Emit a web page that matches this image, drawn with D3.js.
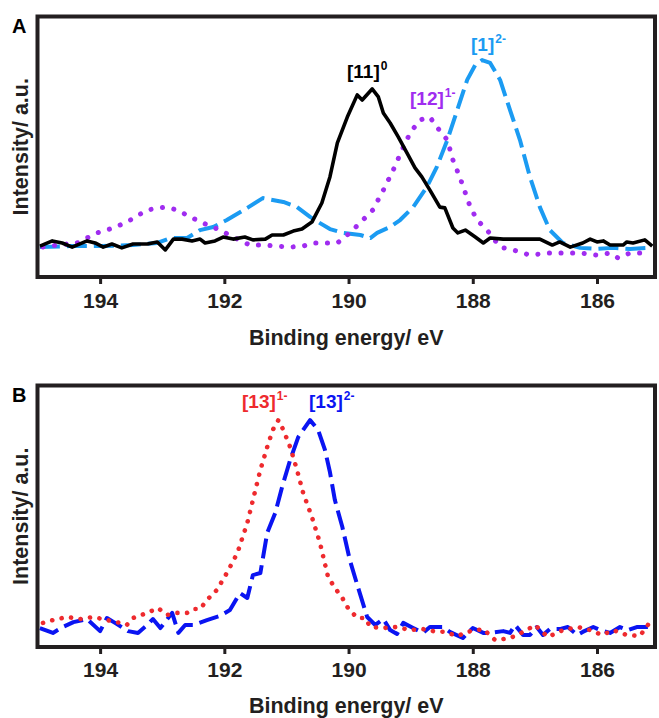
<!DOCTYPE html>
<html>
<head>
<meta charset="utf-8">
<script src="https://cdn.jsdelivr.net/npm/d3@7"></script>
<style>
  html, body { margin: 0; padding: 0; background: #fff; }
  svg { display: block; }
  text { font-family: "Liberation Sans", Arial, Helvetica, sans-serif; font-weight: bold; }
</style>
</head>
<body>
<svg id="chart" width="659" height="718"></svg>
<script>
// ---------------- DATA ----------------
const xTicks = [194, 192, 190, 188, 186];
const xTitle = "Binding energy/ eV";
const yTitle = "Intensity/ a.u.";

// Panel A: [11]0 (black, solid)
const energyA11 = [194.97,194.77,194.61,194.45,194.21,194.08,193.95,193.81,193.65,193.47,193.24,193.08,192.95,192.82,192.68,192.52,192.39,192.31,192.15,192.02,191.86,191.67,191.54,191.34,191.23,191.05,190.89,190.75,190.59,190.43,190.30,190.18,190.02,189.86,189.78,189.62,189.52,189.44,189.33,189.20,189.06,188.93,188.82,188.69,188.53,188.45,188.32,188.24,188.12,187.96,187.83,187.72,187.51,187.29,187.08,186.92,186.72,186.60,186.43,186.23,186.11,186.00,185.90,185.79,185.58,185.52,185.42,185.23,185.11];
const intensA11 = [11.6,13.6,12.8,11.2,13.6,12.8,11.2,12.4,10.9,12.4,12.4,13.2,10.1,14.3,14.3,13.6,14.3,12.8,13.6,15.1,14.3,15.1,14.0,14.3,15.9,15.9,17.4,18.2,20.9,28.3,38.4,51.6,61.6,70.2,68.2,72.5,69.4,63.2,59.3,53.9,47.7,41.9,38.4,33.3,26.7,26.4,18.6,16.7,17.8,15.1,12.8,14.7,14.3,14.3,14.3,14.3,12.0,13.2,11.2,12.8,14.3,13.2,13.6,12.0,12.0,13.2,12.8,14.0,11.6];

// Panel A: [1]2- (light blue, dashed)
const energyA1 = [194.97,194.48,194.00,193.47,193.08,192.87,192.60,192.39,192.18,191.96,191.63,191.38,191.05,190.83,190.62,190.46,190.30,190.09,189.81,189.65,189.54,189.33,189.17,188.96,188.74,188.58,188.41,188.25,188.09,187.96,187.85,187.72,187.56,187.40,187.24,187.08,186.92,186.76,186.55,186.27,186.00,185.74,185.47,185.15];
const intensA1 = [11.2,11.6,11.6,12.0,12.8,14.7,14.7,17.8,19.0,21.7,26.4,30.2,28.7,26.7,22.9,20.5,18.2,16.7,15.9,14.7,16.7,19.0,21.7,26.7,34.5,42.2,52.7,64.3,76.0,81.8,83.7,82.6,76.0,64.3,52.7,38.4,26.7,17.8,12.8,10.9,10.5,10.9,10.5,10.9];

// Panel A: [12]1- (purple, dotted)
const energyA12 = [194.92,194.69,194.37,194.05,193.79,193.57,193.24,192.95,192.76,192.55,192.34,192.07,191.86,191.59,191.38,191.15,190.94,190.73,190.57,190.30,190.18,189.98,189.77,189.61,189.44,189.28,189.14,189.01,188.85,188.69,188.58,188.41,188.32,188.21,188.04,187.93,187.77,187.56,187.35,187.08,186.80,186.55,186.27,186.00,185.79,185.66,185.47,185.20];
const intensA12 = [11.2,12.0,12.8,16.7,18.6,20.9,25.6,26.7,25.6,22.9,20.5,17.8,15.1,12.0,12.0,11.6,11.2,11.6,12.8,12.8,12.8,16.7,21.7,25.6,33.3,41.1,48.8,55.4,60.5,61.6,57.8,52.7,45.0,38.4,26.7,21.7,17.8,11.2,10.1,8.1,8.9,8.9,8.9,8.1,8.9,7.0,8.9,8.9];

// Panel B: [13]1- (red, dotted)
const energyB13a = [194.92,194.76,194.53,194.32,194.11,193.89,193.73,193.57,193.47,193.24,193.07,192.92,192.76,192.60,192.50,192.39,192.28,192.12,191.96,191.79,191.63,191.54,191.42,191.31,191.22,191.13,191.05,190.94,190.83,190.73,190.59,190.46,190.33,190.22,190.10,190.01,189.86,189.73,189.65,189.44,189.22,189.01,188.80,188.64,188.45,188.25,188.04,187.83,187.64,187.40,187.29,187.13,187.00,186.79,186.55,186.31,186.11,185.92,185.74,185.52,185.31,185.18];
const intensB13a = [8.6,9.7,10.9,10.1,10.9,9.7,8.9,7.8,10.5,12.5,14.4,11.7,12.5,12.5,14.0,14.0,17.5,21.4,28.0,35.8,47.5,56.4,68.1,77.0,83.7,87.5,83.7,77.0,68.1,59.1,49.8,39.7,26.5,22.2,18.3,14.4,10.5,10.5,7.0,6.6,7.0,5.8,6.2,5.4,5.1,3.5,5.4,6.2,1.9,2.7,3.9,5.8,7.8,3.1,5.8,7.0,5.8,3.9,5.8,3.9,3.5,7.8];

// Panel B: [13]2- (blue, dashed)
const energyB13b = [194.97,194.76,194.60,194.43,194.21,194.00,193.89,193.76,193.55,193.39,193.24,193.15,193.03,192.84,192.74,192.63,192.50,192.28,192.07,191.91,191.75,191.63,191.54,191.42,191.31,191.18,191.07,190.94,190.81,190.62,190.49,190.38,190.30,190.22,190.10,189.98,189.85,189.70,189.57,189.44,189.33,189.22,189.12,188.96,188.80,188.69,188.48,188.37,188.16,188.00,187.83,187.72,187.51,187.40,187.32,187.19,187.08,186.97,186.87,186.76,186.60,186.47,186.32,186.23,186.06,185.95,185.79,185.63,185.50,185.36,185.18];
const intensB13b = [6.6,4.7,7.0,8.9,10.1,5.4,10.5,8.6,5.4,4.7,7.8,10.1,6.6,12.5,4.7,7.8,7.8,9.7,11.3,13.6,20.2,18.3,27.2,28.0,43.6,51.4,61.5,72.0,80.9,87.5,83.7,75.9,67.3,56.4,45.9,33.1,22.6,10.9,7.8,10.1,5.8,4.3,8.6,6.6,4.7,7.0,7.0,5.1,2.7,6.6,4.7,4.7,5.4,4.7,7.8,3.9,3.9,7.0,3.9,6.2,6.2,7.0,3.9,5.1,7.0,5.8,4.7,7.0,5.8,7.0,7.0];

// ---------------- DRAW ----------------
const svg = d3.select("#chart");
const ink = "#231f20";

const panels = [
  {
    letter: "A", top: 16.5, bottom: 277, yIn: [276, 18], tickBase: 308, titleBase: 345,
    series: [
      { e: energyA1,  v: intensA1,  color: "#1b9bf2", dash: "20,7",  width: 4,   cap: "butt" },
      { e: energyA12, v: intensA12, color: "#a02cf0", dash: "0.1,11.5", width: 5, cap: "round" },
      { e: energyA11, v: intensA11, color: "#000000", dash: null,    width: 3.6, cap: "butt" }
    ],
    labels: [
      { text: "[11]", sup: "0",  x: 347, y: 78,  color: "#000000" },
      { text: "[12]", sup: "1-", x: 410, y: 105, color: "#a02cf0" },
      { text: "[1]",  sup: "2-", x: 471, y: 51,  color: "#1b9bf2" }
    ]
  },
  {
    letter: "B", top: 385.5, bottom: 647, yIn: [645, 388], tickBase: 677, titleBase: 713,
    series: [
      { e: energyB13b, v: intensB13b, color: "#0a14f2", dash: "20,7", width: 4, cap: "butt" },
      { e: energyB13a, v: intensB13a, color: "#ee2a2e", dash: "0.1,9.5", width: 4.6, cap: "round" }
    ],
    labels: [
      { text: "[13]", sup: "1-", x: 242, y: 408, color: "#ee2a2e" },
      { text: "[13]", sup: "2-", x: 309, y: 408, color: "#0a14f2" }
    ]
  }
];

const left = 37.5, right = 655;
const x = d3.scaleLinear().domain([195.0, 185.05]).range([38, 656]);

panels.forEach(p => {
  const y = d3.scaleLinear().domain([0, 100]).range(p.yIn);
  const g = svg.append("g");

  // data lines
  p.series.forEach(s => {
    const pts = s.e.map((e, i) => [e, s.v[i]]);
    const line = d3.line().x(d => x(d[0])).y(d => y(d[1]));
    g.append("path")
      .attr("d", line(pts))
      .attr("fill", "none")
      .attr("stroke", s.color)
      .attr("stroke-width", s.width)
      .attr("stroke-linejoin", "round")
      .attr("stroke-linecap", s.cap)
      .attr("stroke-dasharray", s.dash);
  });

  // frame
  g.append("rect")
    .attr("x", left).attr("y", p.top)
    .attr("width", right - left).attr("height", p.bottom - p.top)
    .attr("fill", "none").attr("stroke", ink).attr("stroke-width", 4);

  // x axis ticks
  const ax = g.append("g")
    .attr("transform", `translate(0,${p.bottom + 2})`)
    .call(d3.axisBottom(x).tickValues(xTicks).tickSize(5).tickPadding(0).tickFormat(d3.format("d")));
  ax.select(".domain").remove();
  ax.selectAll(".tick line").attr("stroke", ink).attr("stroke-width", 3);
  ax.selectAll(".tick text")
    .attr("fill", ink)
    .attr("font-size", 21)
    .attr("dy", null)
    .attr("y", p.tickBase - p.bottom - 2)
    .style("font-family", '"Liberation Sans", Arial, sans-serif')
    .style("font-weight", "bold");

  // x title
  g.append("text")
    .attr("x", (left + right) / 2).attr("y", p.titleBase)
    .attr("text-anchor", "middle").attr("font-size", 21.5).attr("fill", ink)
    .text(xTitle);

  // y title
  const yc = (p.top + p.bottom) / 2;
  g.append("text")
    .attr("transform", `translate(28,${yc}) rotate(-90)`)
    .attr("text-anchor", "middle").attr("font-size", 21.5).attr("fill", ink)
    .text(yTitle);

  // panel letter
  g.append("text")
    .attr("x", 12).attr("y", p.top + 16.5)
    .attr("font-size", 20).attr("fill", "#000")
    .text(p.letter);

  // series labels
  p.labels.forEach(l => {
    const t = g.append("text")
      .attr("x", l.x).attr("y", l.y)
      .attr("font-size", 19).attr("fill", l.color);
    t.append("tspan").text(l.text);
    t.append("tspan").attr("font-size", 12).attr("dy", -8).attr("dx", 1).text(l.sup);
  });
});
</script>
</body>
</html>
